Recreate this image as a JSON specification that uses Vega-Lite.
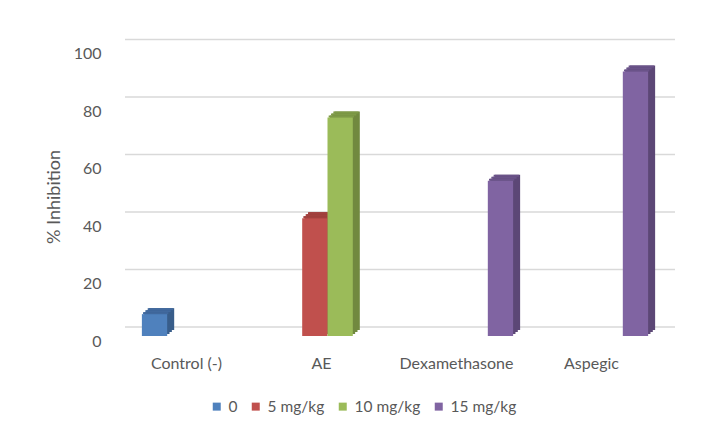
{
  "$schema": "https://vega.github.io/schema/vega-lite/v6.json",
  "autosize": {"type": "none"},
  "width": 540,
  "height": 287.5,
  "padding": {"left": 125, "top": 48.5, "right": 44, "bottom": 93},
  "background": "white",
  "config": {
    "view": {"stroke": null},
    "font": "Lato",
    "axisX": {
      "grid": false, "domain": false, "ticks": false,
      "labelAngle": 0, "labelPadding": 19, "labelOffset": -6,
      "labelFont": "Lato", "labelFontSize": 16, "labelColor": "#595959"
    },
    "axisY": {
      "grid": false, "domain": false, "ticks": false,
      "labelOffset": 5, "labelPadding": 24,
      "labelFont": "Lato", "labelFontSize": 16, "labelColor": "#595959",
      "titleFont": "Lato", "titleFontSize": 18, "titleFontWeight": "normal",
      "titleColor": "#595959", "titleX": -62, "titleY": 148
    },
    "legend": {
      "orient": "none", "legendX": 84, "legendY": 350, "direction": "horizontal",
      "symbolType": "square", "symbolSize": 64, "symbolStrokeWidth": 0,
      "labelFont": "Lato", "labelFontSize": 15.5, "labelColor": "#595959",
      "columnPadding": 10, "labelOffset": 4
    }
  },
  "layer": [
    {
      "data": {"values": [{"tick": 0}, {"tick": 20}, {"tick": 40}, {"tick": 60}, {"tick": 80}, {"tick": 100}]},
      "mark": {"type": "rule", "color": "#D9D9D9", "strokeWidth": 1.5, "xOffset": 10, "x2Offset": 15, "yOffset": -9},
      "encoding": {
        "y": {
          "field": "tick", "type": "quantitative",
          "scale": {"domain": [0, 100], "nice": false},
          "axis": {"title": "% Inhibition", "values": [0, 20, 40, 60, 80, 100]}
        }
      }
    },
    {
      "data": {
        "values": [
          {"group": "Control (-)", "dose": "0", "inhibition": 7.6},
          {"group": "AE", "dose": "5 mg/kg", "inhibition": 41},
          {"group": "AE", "dose": "10 mg/kg", "inhibition": 76},
          {"group": "Dexamethasone", "dose": "15 mg/kg", "inhibition": 54},
          {"group": "Aspegic", "dose": "15 mg/kg", "inhibition": 92}
        ]
      },
      "encoding": {
        "x": {
          "field": "group", "type": "nominal",
          "scale": {"domain": ["Control (-)", "AE", "Dexamethasone", "Aspegic"], "paddingInner": 0.25, "paddingOuter": 0.125},
          "axis": {"title": null}
        },
        "y": {
          "field": "inhibition", "type": "quantitative",
          "scale": {"domain": [0, 100], "nice": false},
          "axis": {"title": "% Inhibition", "values": [0, 20, 40, 60, 80, 100]}
        }
      },
      "layer": [
        {
          "mark": {"type": "bar", "yOffset": -2, "y2Offset": -2},
          "encoding": {
            "xOffset": {"field": "dose", "type": "nominal", "scale": {"domain": ["0", "5 mg/kg", "10 mg/kg", "15 mg/kg"], "range": [2.33, 103.58], "paddingInner": 0, "paddingOuter": 0}},
            "color": {"field": "dose", "type": "nominal", "legend": null, "scale": {"domain": ["0", "5 mg/kg", "10 mg/kg", "15 mg/kg"], "range": ["#385D8A", "#8C3836", "#71893F", "#5C4776"]}}
          }
        },
        {
          "mark": {"type": "bar", "yOffset": -4, "y2Offset": -4},
          "encoding": {
            "xOffset": {"field": "dose", "type": "nominal", "scale": {"domain": ["0", "5 mg/kg", "10 mg/kg", "15 mg/kg"], "range": [4.67, 105.92], "paddingInner": 0, "paddingOuter": 0}},
            "color": {"field": "dose", "type": "nominal", "legend": null, "scale": {"domain": ["0", "5 mg/kg", "10 mg/kg", "15 mg/kg"], "range": ["#385D8A", "#8C3836", "#71893F", "#5C4776"]}}
          }
        },
        {
          "mark": {"type": "bar", "yOffset": -6, "y2Offset": -6},
          "encoding": {
            "xOffset": {"field": "dose", "type": "nominal", "scale": {"domain": ["0", "5 mg/kg", "10 mg/kg", "15 mg/kg"], "range": [7, 108.25], "paddingInner": 0, "paddingOuter": 0}},
            "color": {"field": "dose", "type": "nominal", "legend": null, "scale": {"domain": ["0", "5 mg/kg", "10 mg/kg", "15 mg/kg"], "range": ["#385D8A", "#8C3836", "#71893F", "#5C4776"]}}
          }
        },
        {
          "mark": {"type": "bar", "yOffset": -2, "y2Offset": 0},
          "encoding": {
            "y2": {"field": "inhibition"},
            "xOffset": {"field": "dose", "type": "nominal", "scale": {"domain": ["0", "5 mg/kg", "10 mg/kg", "15 mg/kg"], "range": [1.17, 102.42], "paddingInner": 0, "paddingOuter": 0}},
            "color": {"field": "dose", "type": "nominal", "legend": null, "scale": {"domain": ["0", "5 mg/kg", "10 mg/kg", "15 mg/kg"], "range": ["#41699E", "#A2403E", "#7E9A47", "#6A5389"]}}
          }
        },
        {
          "mark": {"type": "bar", "yOffset": -4, "y2Offset": -2},
          "encoding": {
            "y2": {"field": "inhibition"},
            "xOffset": {"field": "dose", "type": "nominal", "scale": {"domain": ["0", "5 mg/kg", "10 mg/kg", "15 mg/kg"], "range": [3.5, 104.75], "paddingInner": 0, "paddingOuter": 0}},
            "color": {"field": "dose", "type": "nominal", "legend": null, "scale": {"domain": ["0", "5 mg/kg", "10 mg/kg", "15 mg/kg"], "range": ["#41699E", "#A2403E", "#7E9A47", "#6A5389"]}}
          }
        },
        {
          "mark": {"type": "bar", "yOffset": -6, "y2Offset": -4},
          "encoding": {
            "y2": {"field": "inhibition"},
            "xOffset": {"field": "dose", "type": "nominal", "scale": {"domain": ["0", "5 mg/kg", "10 mg/kg", "15 mg/kg"], "range": [5.83, 107.08], "paddingInner": 0, "paddingOuter": 0}},
            "color": {"field": "dose", "type": "nominal", "legend": null, "scale": {"domain": ["0", "5 mg/kg", "10 mg/kg", "15 mg/kg"], "range": ["#41699E", "#A2403E", "#7E9A47", "#6A5389"]}}
          }
        },
        {
          "mark": {"type": "bar"},
          "encoding": {
            "xOffset": {"field": "dose", "type": "nominal", "scale": {"domain": ["0", "5 mg/kg", "10 mg/kg", "15 mg/kg"], "paddingInner": 0, "paddingOuter": 0}},
            "color": {"field": "dose", "type": "nominal", "title": null, "scale": {"domain": ["0", "5 mg/kg", "10 mg/kg", "15 mg/kg"], "range": ["#4F81BD", "#C0504D", "#9BBB59", "#8064A2"]}}
          }
        }
      ],
      "resolve": {"scale": {"xOffset": "independent", "color": "independent"}}
    }
  ]
}
